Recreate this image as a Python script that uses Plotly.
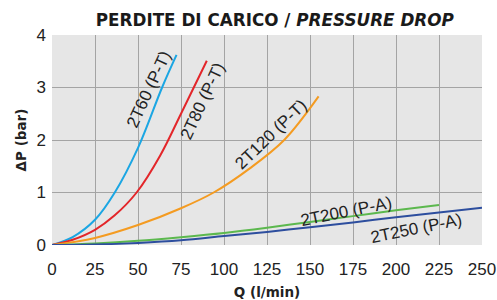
import plotly.graph_objects as go

# Flow rate Q (l/min) and pressure drop ΔP (bar) for each valve
q_2t60 = [0, 12, 25, 36.5, 50, 64, 72.4]
dp_2t60 = [0, 0.15, 0.48, 1.0, 1.85, 3.0, 3.62]

q_2t80 = [0, 12, 25, 36.3, 49.2, 63, 75, 90]
dp_2t80 = [0, 0.1, 0.29, 0.56, 1.0, 1.71, 2.5, 3.51]

q_2t120 = [0, 25, 50, 75, 94, 115, 135, 155]
dp_2t120 = [0, 0.135, 0.38, 0.7, 1.0, 1.46, 2.0, 2.83]

q_2t200 = [0, 25, 50, 75, 100, 125, 150, 175, 200, 225]
dp_2t200 = [0, 0.03, 0.08, 0.15, 0.23, 0.33, 0.44, 0.55, 0.66, 0.76]

q_2t250 = [0, 25, 50, 75, 100, 125, 150, 175, 200, 225, 250]
dp_2t250 = [0, 0.01, 0.04, 0.09, 0.17, 0.25, 0.34, 0.43, 0.53, 0.62, 0.71]

x_ticks = [0, 25, 50, 75, 100, 125, 150, 175, 200, 225, 250]
y_ticks = [0, 1, 2, 3, 4]

series = [
    ("2T60 (P-T)", q_2t60, dp_2t60, "#1ba6e3"),
    ("2T80 (P-T)", q_2t80, dp_2t80, "#e3262a"),
    ("2T120 (P-T)", q_2t120, dp_2t120, "#f49b21"),
    ("2T200 (P-A)", q_2t200, dp_2t200, "#5cb84e"),
    ("2T250 (P-A)", q_2t250, dp_2t250, "#2d4e9e"),
]

# label placement (data coords) and text angle
labels = [
    ("2T60 (P-T)", 56.3, 2.96, -65),
    ("2T80 (P-T)", 87.5, 2.73, -65),
    ("2T120 (P-T)", 127.2, 2.11, -44),
    ("2T200 (P-A)", 171.3, 0.63, -11.5),
    ("2T250 (P-A)", 212, 0.31, -11.5),
]

fig = go.Figure()
for name, q, dp, col in series:
    fig.add_trace(go.Scatter(x=q, y=dp, mode="lines", name=name,
                             line=dict(color=col, width=2, shape="spline", smoothing=1),
                             showlegend=False))

for txt, x, y, ang in labels:
    fig.add_annotation(x=x, y=y, xref="x", yref="y", text=txt, showarrow=False,
                       textangle=ang, font=dict(size=17, color="#222222",
                                                family="Liberation Sans, Arial"))

fig.update_layout(
    width=497, height=300,
    margin=dict(l=52, r=15, t=35, b=54.5, autoexpand=False),
    paper_bgcolor="white",
    plot_bgcolor="#e6e6e6",
    font=dict(family="Liberation Sans, Arial", size=17, color="#222222"),
    title=dict(text="<b>PERDITE DI CARICO / <i>PRESSURE DROP</i></b>",
               x=0.553, xanchor="center", y=0.933, yanchor="middle",
               font=dict(family="DejaVu Sans", size=16.8, color="#1a1a1a")),
)
fig.update_xaxes(range=[0, 250], tickvals=x_ticks, showgrid=True,
                 gridcolor="#a4a4a4", gridwidth=1.2, zeroline=False,
                 showline=False, ticks="", automargin=False,
                 ticklabelstandoff=12,
                 title=dict(text="<b>Q (l/min)</b>", standoff=10,
                            font=dict(family="DejaVu Sans", size=13.5)))
fig.update_yaxes(range=[0, 4], tickvals=y_ticks, showgrid=True,
                 gridcolor="#a4a4a4", gridwidth=1.2, zeroline=False,
                 showline=False, ticks="", automargin=False,
                 ticklabelstandoff=5,
                 title=dict(text="<b>ΔP (bar)</b>", standoff=6,
                            font=dict(family="DejaVu Sans", size=13.5)))

fig.write_html("out.html", config={"displayModeBar": False},
               post_script="document.body.style.margin='0';")
